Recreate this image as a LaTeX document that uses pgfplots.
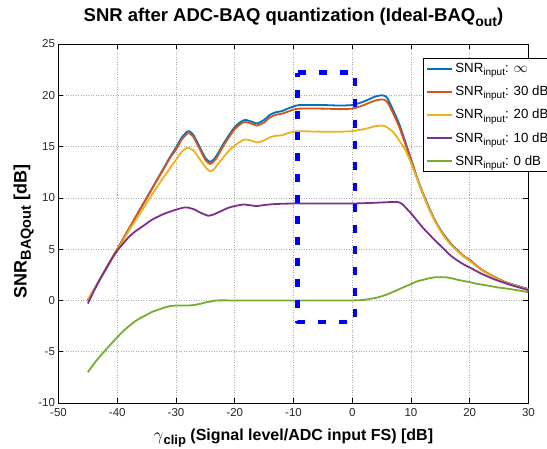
\documentclass[border=0pt]{standalone}
\usepackage{pgfplots}
\pgfplotsset{compat=1.18}
\usepackage{fontspec}
\setmainfont{Liberation Sans}
\definecolor{mBlue}{rgb}{0,0.447,0.741}
\definecolor{mOrange}{rgb}{0.85,0.325,0.098}
\definecolor{mYellow}{rgb}{0.929,0.694,0.125}
\definecolor{mPurple}{rgb}{0.494,0.184,0.556}
\definecolor{mGreen}{rgb}{0.466,0.674,0.188}
\definecolor{pureBlue}{rgb}{0,0,1}
\newcommand\sub[2]{\raisebox{-0.45ex}{\fontsize{#1}{#1}\selectfont #2}}
\begin{document}
\begin{tikzpicture}
\useasboundingbox (-58.5pt,-45pt) rectangle (488.5pt,403pt);
\begin{axis}[
  at={(0pt,0pt)}, anchor=south west,
  scale only axis, width=470pt, height=359pt,
  xmin=-50, xmax=30, ymin=-10, ymax=25,
  xtick={-50,-40,...,30},
  xticklabels={-50,-40,-30,-20,-10,0,10,20,30},
  ytick={-10,-5,...,25},
  yticklabels={-10,-5,0,5,10,15,20,25},
  tick label style={font=\fontsize{11.5}{13}\selectfont, text=black!85},
  xticklabel style={yshift=-2pt},
  tick align=inside, major tick length=5pt,
  tick style={black, line width=0.6pt},
  axis line style={black, line width=0.6pt},
  grid=major,
  major grid style={gray!65, line width=0.6pt, dash pattern=on 1pt off 1.5pt},
  title={\textbf{SNR after ADC-BAQ quantization (Ideal-BAQ\sub{14}{out})}},
  title style={at={(axis description cs:0.5,1.057)}, anchor=center, font=\fontsize{18.5}{20}\selectfont},
  xlabel={$\gamma$\textbf{\sub{13}{clip}} \textbf{(Signal level/ADC input FS) [dB]}},
  xlabel style={at={(axis description cs:0.5,-0.0985)}, anchor=center, font=\fontsize{16}{18}\selectfont},
  ylabel={\textbf{SNR\sub{14.5}{BAQout} [dB]}},
  ylabel style={at={(axis description cs:-0.074,0.478)}, anchor=center, rotate=0, font=\fontsize{18}{20}\selectfont},
  legend style={at={(axis description cs:0.776,0.961)}, anchor=north west,
    font=\fontsize{13.3}{15}\selectfont, draw=black, line width=0.6pt, fill=white,
    inner xsep=3pt, inner ysep=3pt, row sep=8pt},
  legend cell align=left,
  legend image code/.code={\draw[#1, line width=1.8pt] (0pt,0pt) -- (25pt,0pt);},
  every axis plot/.append style={line width=1.8pt, line join=round},
]
% SNR_in = inf
\addplot[mBlue, smooth, tension=0.4] coordinates {
(-45,0.0) (-44,1.0) (-43,2.0) (-42,3.0) (-41,4.0) (-40,5.0) (-39,6.0) (-38,7.0) (-37,8.0) (-36,9.0) (-35,10.0) (-34,11.0) (-33,12.0) (-32,13.0) (-31,14.0) (-30,14.9) (-29,15.9) (-28,16.5) (-27.5,16.4) (-27,16.1) (-26,15.0) (-25,13.9) (-24.2,13.5) (-23.5,13.8) (-23,14.2) (-22,15.2) (-21,16.1) (-20,16.9) (-19,17.4) (-18.2,17.6) (-17,17.4) (-16.2,17.25) (-15,17.6) (-14,18.1) (-13,18.35) (-12,18.45) (-11,18.7) (-10,18.9) (-9,19.05) (-5,19.05) (-2,19.0) (0,19.05) (1,19.2) (2,19.4) (3,19.65) (4,19.9) (5,20.0) (5.5,19.95) (6,19.7) (7,18.5) (8,17.2) (9,15.5) (10,13.8) (11,12.0) (12,10.5) (13,9.15) (14,7.9) (15,6.9) (16,6.1) (17,5.4) (18,4.85) (19,4.3) (20,3.95) (22,3.0) (24,2.35) (26,1.8) (28,1.45) (30,1.1)};
\addlegendentry{SNR\sub{10}{input}: $\infty$}
% 30 dB
\addplot[mOrange, smooth, tension=0.4] coordinates {
(-45,0.0) (-44,1.0) (-43,2.0) (-42,3.0) (-41,4.0) (-40,5.0) (-39,6.0) (-38,7.0) (-37,8.0) (-36,9.0) (-35,9.95) (-34,10.95) (-33,11.95) (-32,12.9) (-31,13.9) (-30,14.7) (-29,15.7) (-28,16.3) (-27.5,16.2) (-27,15.9) (-26,14.8) (-25,13.7) (-24.2,13.3) (-23.5,13.6) (-23,14.0) (-22,15.0) (-21,15.9) (-20,16.7) (-19,17.2) (-18.2,17.4) (-17,17.2) (-16.2,17.05) (-15,17.35) (-14,17.85) (-13,18.1) (-12,18.2) (-11,18.4) (-10,18.6) (-9,18.7) (-5,18.7) (-2,18.65) (0,18.7) (1,18.85) (2,19.05) (3,19.3) (4,19.5) (5,19.6) (5.5,19.55) (6,19.3) (7,18.2) (8,16.9) (9,15.3) (10,13.7) (11,12.0) (12,10.45) (13,9.05) (14,7.85) (15,6.85) (16,6.0) (17,5.35) (18,4.8) (19,4.3) (20,3.9) (22,3.0) (24,2.35) (26,1.8) (28,1.4) (30,1.1)};
\addlegendentry{SNR\sub{10}{input}: 30 dB}
% 20 dB
\addplot[mYellow, smooth, tension=0.4] coordinates {
(-45,0.1) (-44,1.05) (-43,2.0) (-42,2.95) (-41,3.9) (-40,4.9) (-39,5.85) (-38,6.8) (-37,7.7) (-36,8.6) (-35,9.5) (-34,10.4) (-33,11.25) (-32,12.1) (-31,12.9) (-30,13.7) (-29,14.5) (-28,14.9) (-27,14.6) (-26,13.8) (-25,13.0) (-24.2,12.6) (-23.5,12.8) (-23,13.2) (-22,13.9) (-21,14.6) (-20,15.1) (-19,15.5) (-18.2,15.7) (-17,15.55) (-16.2,15.4) (-15,15.6) (-14,15.9) (-13,16.05) (-12,16.1) (-11,16.3) (-10,16.45) (-9,16.5) (-5,16.45) (-2,16.45) (0,16.5) (1,16.6) (2,16.7) (3,16.85) (4,17.0) (5,17.05) (5.5,17.0) (6,16.85) (7,16.4) (8,15.6) (9,14.7) (10,13.4) (11,11.9) (12,10.4) (13,9.0) (14,7.8) (15,6.8) (16,5.95) (17,5.3) (18,4.75) (19,4.25) (20,3.85) (22,2.95) (24,2.3) (26,1.75) (28,1.4) (30,1.05)};
\addlegendentry{SNR\sub{10}{input}: 20 dB}
% 10 dB
\addplot[mPurple, smooth, tension=0.4] coordinates {
(-45,-0.3) (-44,0.9) (-43,2.0) (-42,3.0) (-41,4.0) (-40,4.85) (-39,5.55) (-38,6.2) (-37,6.7) (-36,7.1) (-35,7.5) (-34,7.9) (-32,8.45) (-30,8.85) (-28.5,9.07) (-28,9.05) (-27,8.9) (-26,8.6) (-25,8.35) (-24.5,8.25) (-23.5,8.4) (-22,8.8) (-21,9.05) (-20,9.2) (-18.5,9.35) (-17,9.25) (-16.2,9.2) (-15,9.3) (-13,9.4) (-10,9.45) (-5,9.45) (0,9.45) (3,9.5) (5,9.55) (7.6,9.6) (8.5,9.4) (9.5,8.8) (10,8.5) (11,7.8) (12,7.1) (13,6.5) (14,5.9) (15,5.35) (16.7,4.4) (18,3.85) (19,3.5) (20.7,3.0) (22,2.6) (24,2.1) (25.2,1.85) (27,1.5) (30,1.0)};
\addlegendentry{SNR\sub{10}{input}: 10 dB}
% 0 dB
\addplot[mGreen, smooth, tension=0.4] coordinates {
(-45,-7.0) (-44,-6.2) (-43,-5.5) (-42.4,-5.1) (-41,-4.2) (-40,-3.6) (-39,-3.0) (-38,-2.5) (-37,-2.05) (-36,-1.7) (-35,-1.4) (-34,-1.1) (-33,-0.9) (-32,-0.7) (-31,-0.55) (-30,-0.5) (-28,-0.5) (-27,-0.45) (-26,-0.35) (-25,-0.2) (-24,-0.1) (-23,0.0) (-20,0.0) (-15,0.0) (-10,0.0) (-5,0.0) (0,0.0) (2,0.05) (3,0.15) (4,0.25) (5,0.4) (6,0.6) (7,0.85) (8,1.1) (9,1.35) (10,1.6) (11,1.85) (12,2.0) (13,2.15) (14,2.25) (15,2.27) (16,2.25) (17,2.15) (18,2.0) (19.5,1.84) (21,1.65) (23,1.45) (25,1.25) (27,1.1) (30,0.8)};
\addlegendentry{SNR\sub{10}{input}: 0 dB}
% highlighted region
\addplot[pureBlue, line width=4.5pt, dash pattern=on 8pt off 13pt, forget plot] coordinates {
(-9.3,22.2) (0.5,22.2) (0.5,-2.1) (-9.3,-2.1) (-9.3,22.2)};
\end{axis}
\end{tikzpicture}
\end{document}
